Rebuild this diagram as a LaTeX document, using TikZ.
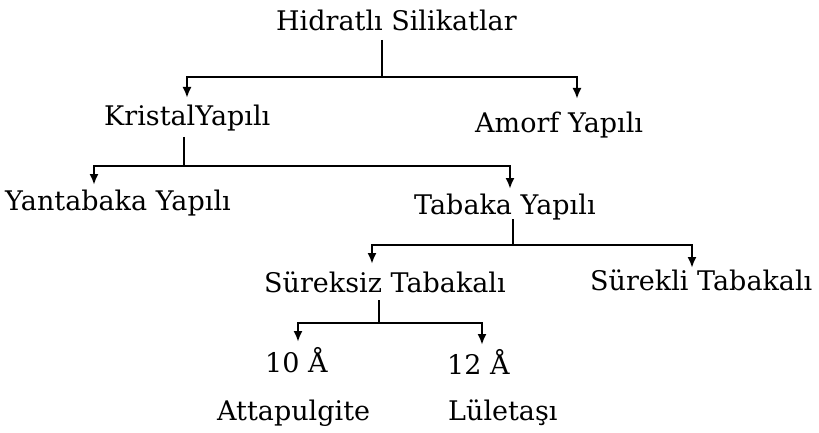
\documentclass[tikz,border=0pt]{standalone}
\usepackage{fontspec}
\setmainfont{DejaVu Serif}
\usetikzlibrary{arrows.meta}
\begin{document}
\begin{tikzpicture}[x=1pt,y=-1pt,
  lbl/.style={anchor=base west,inner sep=0pt,font=\fontsize{27}{30}\selectfont},
  conn/.style={line width=2.2pt},
  arr/.style={line width=2.2pt,-{Latex[length=11pt,width=9pt]}}]
\useasboundingbox (0,0) rectangle (819,433);
% nodes
\node[lbl] (H)  at (276,31)  {Hidratlı Silikatlar};
\node[lbl] (K)  at (104,126) {KristalYapılı};
\node[lbl] (A)  at (475,133) {Amorf Yapılı};
\node[lbl] (Y)  at (5,210)   {Yantabaka Yapılı};
\node[lbl] (T)  at (414,214) {Tabaka Yapılı};
\node[lbl] (SZ) at (264,292) {Süreksiz Tabakalı};
\node[lbl] (SL) at (590,290) {Sürekli Tabakalı};
\node[lbl] (D10) at (265,372) {10 Å};
\node[lbl] (D12) at (447,374) {12 Å};
\node[lbl] (AT) at (217,420) {Attapulgite};
\node[lbl] (LU) at (448,420) {Lületaşı};
% junctions and arrow tips
\coordinate (b1) at (382,77);
\coordinate (tK) at (187,98);
\coordinate (tA) at (577,99);
\coordinate (b2) at (184,166);
\coordinate (tY) at (94,185);
\coordinate (tT) at (510,189);
\coordinate (b3) at (513,245);
\coordinate (tSZ) at (372,264);
\coordinate (tSL) at (692,268);
\coordinate (b4) at (379,323);
\coordinate (t10) at (298,342);
\coordinate (t12) at (482,345);
% connectors
\draw[conn] ([yshift=-9pt]H.base -| b1) -- (b1);
\draw[arr] (b1) -| (tK);
\draw[arr] (b1) -| (tA);
\draw[conn] ([yshift=-11pt]K.base -| b2) -- (b2);
\draw[arr] (b2) -| (tY);
\draw[arr] (b2) -| (tT);
\draw[conn] ([yshift=-5pt]T.base -| b3) -- (b3);
\draw[arr] (b3) -| (tSZ);
\draw[arr] (b3) -| (tSL);
\draw[conn] ([yshift=-8pt]SZ.base -| b4) -- (b4);
\draw[arr] (b4) -| (t10);
\draw[arr] (b4) -| (t12);
\end{tikzpicture}
\end{document}
